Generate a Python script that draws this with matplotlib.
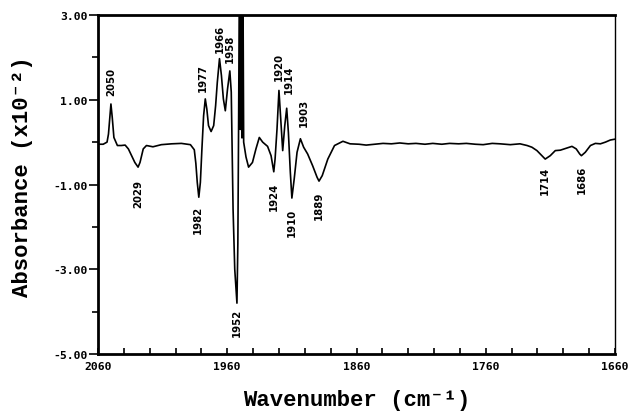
import numpy as np
import matplotlib
matplotlib.use("Agg")
import matplotlib.pyplot as plt
from matplotlib.ticker import FixedLocator, MultipleLocator, FormatStrFormatter

plt.rcParams['axes.unicode_minus'] = False

# ---- data (wavenumber cm^-1, absorbance x10^-2) ----
wavenumber = [
    2060, 2056, 2053, 2051.9, 2050.8, 2050, 2049, 2047.7, 2045, 2042, 2039,
    2036.5, 2034, 2031.5, 2029, 2027.5, 2025, 2022.5, 2017.5, 2011, 2003,
    1995.5, 1988.5, 1985.5, 1984.3, 1983.2, 1982, 1980.8, 1979.6, 1978.3,
    1977, 1975.8, 1974.5, 1972.5, 1970.5, 1969, 1967.7, 1966, 1964.5, 1963,
    1961.5, 1959.8, 1958, 1956.9, 1956.2, 1955.5, 1954.2, 1952.5, 1951.8,
    1951.2, 1950.7, 1950.3, 1949.9, 1949.4, 1949.0, 1948.6, 1948.2, 1947.8,
    1947.3, 1946.8, 1945.5,
    1943.5, 1940.5, 1937.8, 1935.2, 1932.6, 1928.8, 1926.1, 1924, 1923,
    1921.5, 1920, 1918.6, 1917.1, 1915.5, 1914, 1912.7, 1911.2, 1910,
    1908.2, 1906, 1903.4, 1900.9, 1897.8, 1893.9, 1890.5, 1889, 1886.5,
    1882.2, 1877, 1870.5, 1865, 1858, 1852.5, 1846, 1839.5, 1833, 1826.5,
    1820, 1814, 1807, 1801, 1794, 1788, 1781, 1775, 1768, 1762, 1755, 1749,
    1741, 1733.5, 1728, 1724.3, 1720.4, 1716.6, 1714, 1710.1, 1706.2,
    1702.3, 1698.4, 1693.3, 1690, 1687.3, 1686, 1683, 1679, 1675.2, 1671.3,
    1667.4, 1663.6, 1660,
]
absorbance = [
    -0.05, -0.05, 0.00, 0.19, 0.59, 0.90, 0.59, 0.11, -0.08, -0.08, -0.07,
    -0.16, -0.32, -0.48, -0.59, -0.48, -0.16, -0.08, -0.11, -0.06, -0.04,
    -0.03, -0.06, -0.18, -0.50, -0.95, -1.30, -0.95, -0.16, 0.62,
    1.02, 0.78, 0.39, 0.25, 0.39, 0.86, 1.41, 1.97, 1.57, 1.02,
    0.74, 1.25, 1.68, 1.18, -0.16, -1.58, -3.00, -3.80, -2.40,
    0.50, 3.40, 3.40, 0.30, 3.40, 3.40, 0.10, 3.40, 3.40,
    0.00, -0.10, -0.35,
    -0.59, -0.48, -0.16, 0.11, 0.00, -0.10, -0.32, -0.70, -0.40,
    0.31, 1.22, 0.55, -0.20, 0.39, 0.80, 0.23, -0.71, -1.32,
    -0.87, -0.24, 0.08, -0.12, -0.28, -0.56, -0.83, -0.92, -0.79,
    -0.40, -0.08, 0.02, -0.04, -0.05, -0.07, -0.05, -0.03, -0.04, -0.02,
    -0.04, -0.03, -0.05, -0.03, -0.05, -0.03, -0.04, -0.03, -0.05, -0.06, -0.03, -0.04,
    -0.06, -0.04, -0.08, -0.12, -0.20, -0.32, -0.40, -0.32, -0.20,
    -0.19, -0.15, -0.10, -0.16, -0.28, -0.32, -0.24, -0.08, -0.03, -0.04,
    0.00, 0.05, 0.07,
]

# peak labels: text, wavenumber, side (+1 above peak, -1 below dip)
peak_labels = ["2050", "2029", "1982", "1977", "1966", "1958", "1952",
               "1924", "1920", "1914", "1910", "1903", "1889", "1714", "1686"]
peak_wn = [2050, 2029, 1982, 1977, 1966, 1958, 1952.5,
           1924, 1920, 1914, 1910, 1903.4, 1889, 1714, 1686]
peak_side = [1, -1, -1, 1, 1, 1, -1, -1, 1, 1, -1, 1, -1, -1, -1]
label_gap_px = [9, 12, 8, 8, 7, 9, 5, 10, 10, 15, 10, 13, 10, 7, 9]
label_shift_px = [0, 0, -1, -2, 0, 0, 0, 0, 0, 2, 0, 3, 0, 0, 0]

x_major = [2060, 1960, 1860, 1760, 1660]
y_major = [3, 1, -1, -3, -5]
y_minor = [2, 0, -2, -4]

# ---- figure ----
W, H = 628, 414
fig = plt.figure(figsize=(W / 100, H / 100), dpi=100)
ax = fig.add_axes([98 / W, 1 - 355 / H, (615 - 98) / W, (355 - 16) / H])

ax.plot(wavenumber, absorbance, color="black", lw=1.2, solid_joinstyle="round")
ax.set_xlim(2060, 1660)
ax.set_ylim(-5, 3)

ax.xaxis.set_major_locator(FixedLocator(x_major))
ax.xaxis.set_minor_locator(MultipleLocator(20))
ax.yaxis.set_major_locator(FixedLocator(y_major))
ax.yaxis.set_minor_locator(FixedLocator(y_minor))
ax.xaxis.set_major_formatter(FormatStrFormatter("%d"))
ax.yaxis.set_major_formatter(FormatStrFormatter("%.2f"))
for lab in ax.get_xticklabels() + ax.get_yticklabels():
    lab.set_fontfamily("DejaVu Sans Mono")
    lab.set_fontweight("bold")
    lab.set_fontsize(8.2)

ax.tick_params(axis="x", which="both", direction="in", length=4, width=1.2, pad=5,
               top=False)
ax.tick_params(axis="y", which="major", direction="out", length=6.5, width=1.2, pad=1)
ax.tick_params(axis="y", which="minor", direction="out", length=4, width=1.2)

for side, lw in (("bottom", 2.0), ("left", 2.0), ("top", 2.0), ("right", 1.0)):
    ax.spines[side].set_linewidth(lw)

lab_font = dict(family=["Liberation Mono", "DejaVu Sans Mono"], weight="bold", size=16)
ax.set_xlabel("Wavenumber (cm\u207b\u00b9)", **lab_font)
ax.set_ylabel("Absorbance (x10\u207b\u00b2)", **lab_font)
ax.xaxis.set_label_coords((357 - 98) / 517, (355 - 401) / 339)
ax.yaxis.set_label_coords((23 - 98) / 517, (355 - 177) / 339)
ax.xaxis.label.set_va("center")
ax.yaxis.label.set_va("center")

order = np.argsort(wavenumber)
wn_sorted = np.asarray(wavenumber)[order]
ab_sorted = np.asarray(absorbance)[order]
for text, wn, side, gap, dx in zip(peak_labels, peak_wn, peak_side,
                                   label_gap_px, label_shift_px):
    yv = float(np.interp(wn, wn_sorted, ab_sorted))
    yv = max(min(yv, 3), -5)
    ax.annotate(text, xy=(wn, yv), xytext=(dx * 0.72, side * gap * 0.72),
                textcoords="offset points", rotation=90,
                ha="center", va="bottom" if side > 0 else "top",
                family="DejaVu Sans", weight="bold", fontsize=7.3)

fig.savefig("out.png", dpi=100)
